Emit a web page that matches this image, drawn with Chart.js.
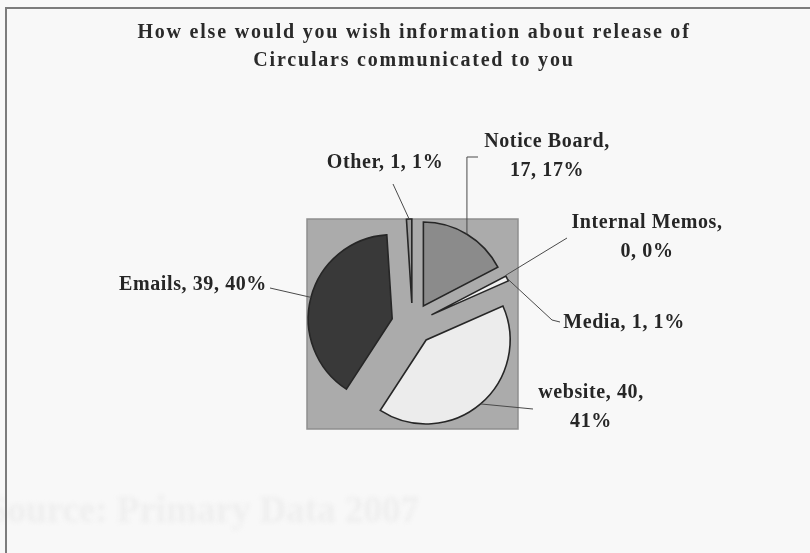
<!DOCTYPE html>
<html>
<head>
<meta charset="utf-8">
<title>Circulars communication</title>
<script src="https://cdn.jsdelivr.net/npm/chart.js@4.4.1/dist/chart.umd.min.js"></script>
<style>
  html, body { margin: 0; padding: 0; background: #f8f8f8; }
  canvas { display: block; }
</style>
</head>
<body>
<canvas id="pie" width="810" height="553"></canvas>
<script>
// survey answers, clockwise from 12 o'clock
const categories = ['Notice Board', 'Internal Memos', 'Media', 'website', 'Emails', 'Other'];
const responses = [17, 0, 1, 40, 39, 1];
const sliceColors = ['#8b8b8b', '#eeeeee', '#f2f2f2', '#ececec', '#393939', '#9a9a9a'];
const titleLines = ['How else would you wish information about release of', 'Circulars communicated to you'];
const sourceNote = 'Source: Primary Data 2007';

const total = responses.reduce((a, b) => a + b, 0);
const percents = responses.map(v => Math.round(v / total * 100));

// where each data label sits and how its leader line bends
const labelLayout = [
  { x: 547, y: 147, wrap: 1, leader: [[null, 157], [478, 157]] },
  { x: 647, y: 228, wrap: 1, leader: [[567, 238]] },
  { x: 624, y: 328, wrap: 0, leader: [[552, 320], [560, 322]] },
  { x: 591, y: 398, wrap: 2, leader: [[533, 409]] },
  { x: 193, y: 290, wrap: 0, leader: [[270, 288]] },
  { x: 385, y: 168, wrap: 0, leader: [[393, 184]] }
];

const EXPLODE = 21;
const LABEL_FONT = 'bold 20px "Liberation Serif", "Times New Roman", serif';

function labelLines(i) {
  const parts = [categories[i], String(responses[i]), percents[i] + '%'];
  const wrap = labelLayout[i].wrap;
  if (!wrap) return [parts.join(', ')];
  return [parts.slice(0, wrap).join(', ') + ',', parts.slice(wrap).join(', ')];
}

function shiftArcs(chart, dir) {
  chart.getDatasetMeta(0).data.forEach(arc => {
    const mid = (arc.startAngle + arc.endAngle) / 2;
    arc.x += dir * Math.cos(mid) * EXPLODE;
    arc.y += dir * Math.sin(mid) * EXPLODE;
  });
}

const decorations = {
  id: 'decorations',
  beforeDraw(chart) {
    const { ctx, width, height } = chart;
    ctx.save();
    ctx.fillStyle = '#f8f8f8';
    ctx.fillRect(0, 0, width, height);

    // faint note showing through from the page behind
    ctx.filter = 'blur(2px)';
    ctx.fillStyle = '#eeeeee';
    ctx.font = 'bold 37px "Liberation Serif", serif';
    ctx.textBaseline = 'alphabetic';
    ctx.fillText(sourceNote, -13, 522);
    ctx.filter = 'none';

    // chart frame
    ctx.strokeStyle = '#7c7c7c';
    ctx.lineWidth = 2;
    ctx.beginPath();
    ctx.moveTo(width, 8);
    ctx.lineTo(6, 8);
    ctx.lineTo(6, height);
    ctx.stroke();

    // title
    ctx.fillStyle = '#2a2a2a';
    ctx.font = 'bold 20px "Liberation Serif", serif';
    ctx.letterSpacing = '1.8px';
    ctx.textAlign = 'center';
    ctx.fillText(titleLines[0], 414, 38);
    ctx.fillText(titleLines[1], 414, 66);
    ctx.restore();
  },
  beforeDatasetsDraw(chart) {
    const { ctx, chartArea: a } = chart;
    ctx.save();
    ctx.fillStyle = '#ababab';
    ctx.fillRect(a.left, a.top, a.right - a.left, a.bottom - a.top);
    ctx.strokeStyle = '#8e8e8e';
    ctx.lineWidth = 1.5;
    ctx.strokeRect(a.left, a.top, a.right - a.left, a.bottom - a.top);
    ctx.restore();
    shiftArcs(chart, 1);
  },
  afterDatasetsDraw(chart) {
    const { ctx } = chart;
    const arcs = chart.getDatasetMeta(0).data;
    ctx.save();
    ctx.strokeStyle = '#4a4a4a';
    ctx.lineWidth = 1;
    arcs.forEach((arc, i) => {
      const mid = (arc.startAngle + arc.endAngle) / 2;
      let px = arc.x + Math.cos(mid) * arc.outerRadius;
      let py = arc.y + Math.sin(mid) * arc.outerRadius;
      ctx.beginPath();
      ctx.moveTo(px, py);
      labelLayout[i].leader.forEach(([lx, ly]) => {
        px = lx === null ? px : lx;
        py = ly;
        ctx.lineTo(px, py);
      });
      ctx.stroke();
    });

    ctx.fillStyle = '#262626';
    ctx.font = LABEL_FONT;
    ctx.letterSpacing = '0.6px';
    ctx.textAlign = 'center';
    ctx.textBaseline = 'alphabetic';
    arcs.forEach((arc, i) => {
      const { x, y } = labelLayout[i];
      labelLines(i).forEach((line, k) => ctx.fillText(line, x, y + k * 29));
    });
    ctx.restore();
    shiftArcs(chart, -1);
  }
};

new Chart(document.getElementById('pie'), {
  type: 'pie',
  data: {
    labels: categories,
    datasets: [{
      data: responses,
      backgroundColor: sliceColors,
      borderColor: '#262626',
      borderWidth: 1.6,
      borderJoinStyle: 'miter'
    }]
  },
  options: {
    responsive: false,
    animation: false,
    radius: 84,
    layout: { padding: { left: 307, top: 219, right: 292, bottom: 124 } },
    plugins: {
      legend: { display: false },
      title: { display: false },
      tooltip: { enabled: false }
    }
  },
  plugins: [decorations]
});
</script>
</body>
</html>
